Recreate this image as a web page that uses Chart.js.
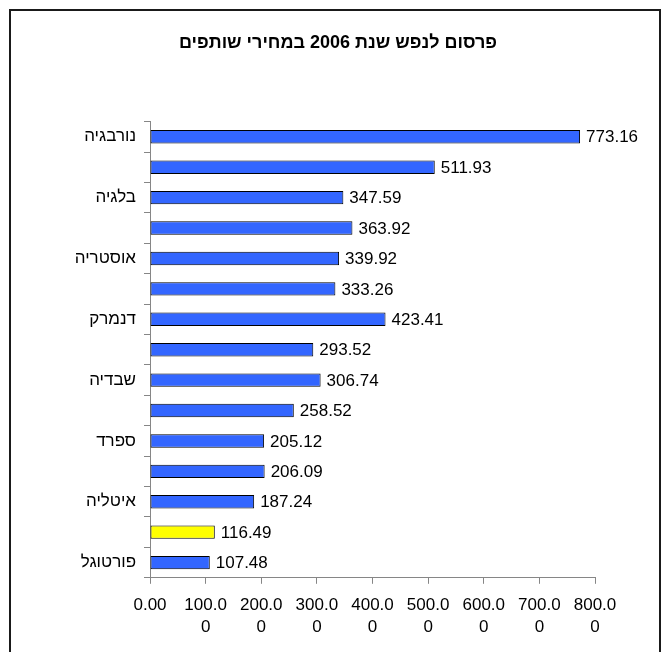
<!DOCTYPE html>
<html lang="he">
<head>
<meta charset="utf-8">
<title>פרסום לנפש שנת 2006 במחירי שותפים</title>
<script src="https://cdn.jsdelivr.net/npm/chart.js@4/dist/chart.umd.min.js"></script>
<style>
  html, body { margin: 0; padding: 0; background: #fff; }
  #wrap { position: relative; width: 664px; height: 652px; overflow: hidden; }
  #frame {
    position: absolute; left: 9px; top: 9px; width: 652px; height: 700px;
    border: 2px solid #1a1a1a; box-sizing: border-box; pointer-events: none;
  }
  #chart { position: absolute; left: 0; top: 0; }
</style>
</head>
<body>
<div id="wrap">
  <canvas id="chart" width="664" height="652"></canvas>
  <div id="frame"></div>
</div>
<script>
const title = 'פרסום לנפש שנת 2006 במחירי שותפים';

// only every other country name is printed on the axis
const countries = ['נורבגיה', '', 'בלגיה', '', 'אוסטריה', '', 'דנמרק', '', 'שבדיה', '', 'ספרד', '', 'איטליה', '', 'פורטוגל'];
const perCapita = [773.16, 511.93, 347.59, 363.92, 339.92, 333.26, 423.41, 293.52, 306.74, 258.52, 205.12, 206.09, 187.24, 116.49, 107.48];
const highlight = 13; // the yellow bar

const xMin = 0;
const xMax = 800;
const xStep = 100;

const font = "'Liberation Sans', Arial, sans-serif";
const blue = '#3366ff';
const yellow = '#ffff00';
const axisGray = '#868686';

const barColors = perCapita.map((v, i) => i === highlight ? yellow : blue);

// writes the value just past the end of each bar
const valueLabels = {
  id: 'valueLabels',
  afterDatasetsDraw(chart) {
    const ctx = chart.ctx;
    const meta = chart.getDatasetMeta(0);
    ctx.save();
    ctx.font = '17px ' + font;
    ctx.fillStyle = '#000';
    ctx.textAlign = 'left';
    ctx.textBaseline = 'middle';
    meta.data.forEach((bar, i) => {
      ctx.fillText(perCapita[i].toFixed(2), bar.x + 6, bar.y + 1);
    });
    ctx.restore();
  }
};

new Chart(document.getElementById('chart'), {
  type: 'bar',
  data: {
    labels: countries,
    datasets: [{
      data: perCapita,
      backgroundColor: barColors,
      borderColor: '#000',
      borderWidth: 1,
      borderSkipped: false,
      barPercentage: 0.44,
      categoryPercentage: 1
    }]
  },
  options: {
    indexAxis: 'y',
    responsive: false,
    animation: false,
    events: [],
    layout: { padding: { left: 12, right: 0, top: 0, bottom: 4 } },
    plugins: {
      legend: { display: false },
      tooltip: { enabled: false },
      title: {
        display: true,
        text: title,
        color: '#000',
        font: { family: font, size: 18, weight: 'bold', lineHeight: 1.2 },
        padding: { top: 32, bottom: 68 }
      }
    },
    scales: {
      x: {
        min: xMin,
        max: xMax,
        border: { color: axisGray, width: 1 },
        grid: { drawOnChartArea: false, drawTicks: true, tickLength: 6, color: axisGray },
        ticks: {
          stepSize: xStep,
          padding: 10,
          maxRotation: 0,
          color: '#000',
          font: { family: font, size: 17, lineHeight: 1.3 },
          callback: v => v === 0 ? '0.00' : [v.toFixed(1), '0']
        }
      },
      y: {
        border: { color: axisGray, width: 1 },
        grid: { drawOnChartArea: false, drawTicks: true, tickLength: 6, color: axisGray, offset: true },
        ticks: {
          autoSkip: false,
          padding: 8,
          color: '#000',
          font: { family: font, size: 17 }
        },
        afterFit(scale) { scale.width = 138; }
      },
      // empty box on the right: leaves room for the last value and tick label
      // while the full-width title stays centred in the frame
      spacer: {
        type: 'category',
        position: 'right',
        grid: { display: false },
        border: { display: false },
        ticks: { display: false },
        afterFit(scale) { scale.width = 69; }
      }
    }
  },
  plugins: [valueLabels]
});
</script>
</body>
</html>
